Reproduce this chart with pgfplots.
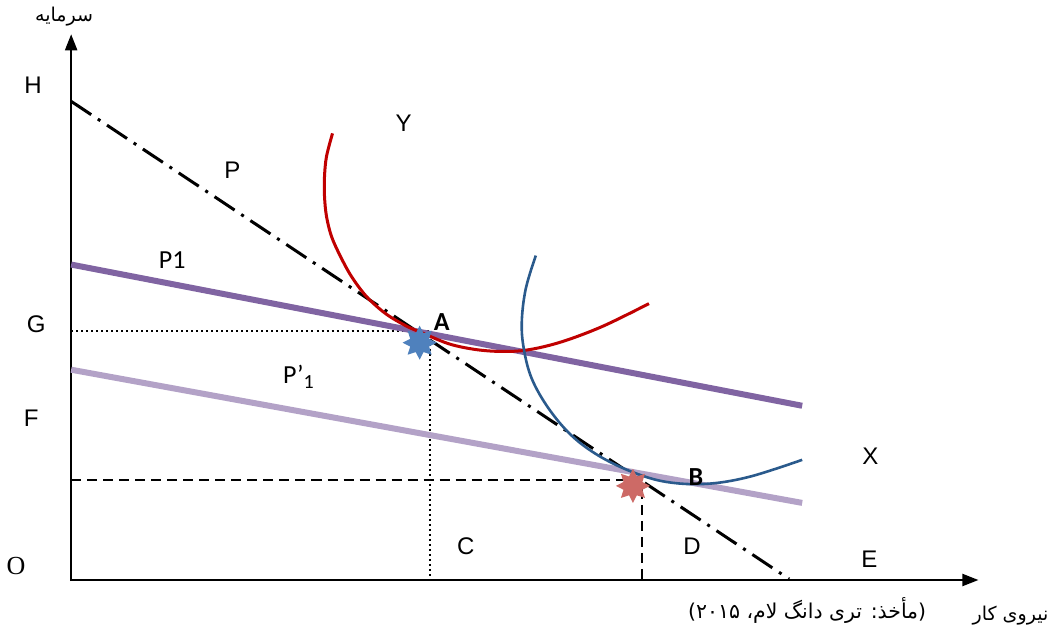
\documentclass[border=0pt]{standalone}
\usepackage{fontspec}
\setmainfont{Liberation Sans}
\newfontfamily\califont{Carlito}
\newfontfamily\serifont{Liberation Serif}
\newfontfamily\arabicfont[Script=Arabic]{DejaVu Sans}
\TeXXeTstate=1
\usepackage{pgfplots}
\pgfplotsset{compat=1.18}
\usetikzlibrary{arrows.meta}
\definecolor{pA}{HTML}{8064A2}
\definecolor{pB}{HTML}{B3A2C7}
\definecolor{redc}{HTML}{C00000}
\definecolor{bluec}{HTML}{2A5A8C}
\definecolor{starA}{HTML}{4F81BD}
\definecolor{starB}{HTML}{CD6A66}
\pgfdeclareplotmark{star8}{%
  \pgfpathmoveto{\pgfpointpolar{90}{\pgfplotmarksize}}%
  \pgfpathlineto{\pgfpointpolar{112.5}{0.6\pgfplotmarksize}}%
  \pgfpathlineto{\pgfpointpolar{135}{\pgfplotmarksize}}%
  \pgfpathlineto{\pgfpointpolar{157.5}{0.6\pgfplotmarksize}}%
  \pgfpathlineto{\pgfpointpolar{180}{\pgfplotmarksize}}%
  \pgfpathlineto{\pgfpointpolar{202.5}{0.6\pgfplotmarksize}}%
  \pgfpathlineto{\pgfpointpolar{225}{\pgfplotmarksize}}%
  \pgfpathlineto{\pgfpointpolar{247.5}{0.6\pgfplotmarksize}}%
  \pgfpathlineto{\pgfpointpolar{270}{\pgfplotmarksize}}%
  \pgfpathlineto{\pgfpointpolar{292.5}{0.6\pgfplotmarksize}}%
  \pgfpathlineto{\pgfpointpolar{315}{\pgfplotmarksize}}%
  \pgfpathlineto{\pgfpointpolar{337.5}{0.6\pgfplotmarksize}}%
  \pgfpathlineto{\pgfpointpolar{0}{\pgfplotmarksize}}%
  \pgfpathlineto{\pgfpointpolar{22.5}{0.6\pgfplotmarksize}}%
  \pgfpathlineto{\pgfpointpolar{45}{\pgfplotmarksize}}%
  \pgfpathlineto{\pgfpointpolar{67.5}{0.6\pgfplotmarksize}}%
  \pgfpathclose
  \pgfusepathqfill}
\begin{document}
\begin{tikzpicture}
\begin{axis}[width=527.5pt,height=315pt,scale only axis,hide axis,
  xmin=0,xmax=1055,ymin=0,ymax=630,clip=false]
% axes
\addplot[black,line width=1pt,-{Triangle[length=8pt,width=6pt]}] coordinates {(73,48) (73,594)};
\addplot[black,line width=1pt,-{Triangle[length=8pt,width=6pt]}] coordinates {(72,49) (979,49)};
% budget line P (dash-dot)
\addplot[black,line width=1.5pt,dash pattern=on 12pt off 4pt on 1.5pt off 4pt] coordinates {(73,527) (790,50)};
% guide lines
\addplot[black,line width=1pt,dash pattern=on 1pt off 1.5pt] coordinates {(73,298) (430,298)};
\addplot[black,line width=1pt,dash pattern=on 1pt off 1.5pt] coordinates {(431,285) (431,49)};
\addplot[black,line width=0.9pt,dash pattern=on 5pt off 3pt] coordinates {(73,149) (633,149)};
\addplot[black,line width=0.9pt,dash pattern=on 5pt off 3pt] coordinates {(643,140) (643,49)};
% price lines
\addplot[pA,line width=3pt] coordinates {(73,364) (803,223)};
\addplot[pB,line width=3pt] coordinates {(73,259) (803,126)};
% isoquant Y (red)
\addplot[redc,line width=1.5pt,smooth,tension=0.55] coordinates {
(334,495) (328,472) (326,452) (326,432) (328,412) (333,392) (342,372) (353,352)
(368,332) (387,315) (407,303) (423,296) (453,284) (487,278) (523,278) (560,286)
(603,302) (650,325)};
% isoquant X (blue)
\addplot[bluec,line width=1.3pt,smooth,tension=0.6] coordinates {
(537,373) (527,340) (523,307) (525,280) (533,250) (550,220) (573,193) (600,173)
(633,157) (667,147) (707,145) (750,152) (803,169)};
% equilibrium points
\addplot[only marks,mark=star8,mark size=8.5pt,color=starA] coordinates {(421,286)};
\addplot[only marks,mark=star8,mark size=8.5pt,color=starB] coordinates {(634,143)};
% labels
\node[font=\fontsize{12}{14}\selectfont] at (axis cs:35,543) {H};
\node[font=\fontsize{12}{14}\selectfont] at (axis cs:38,304) {G};
\node[font=\fontsize{12}{14}\selectfont] at (axis cs:33,211) {F};
\node[font=\fontsize{13}{15}\serifont] at (axis cs:18,63) {O};
\node[font=\fontsize{12}{14}\selectfont] at (axis cs:870,70) {E};
\node[font=\fontsize{12}{14}\selectfont] at (axis cs:871,173) {X};
\node[font=\fontsize{12}{14}\selectfont] at (axis cs:405,505) {Y};
\node[font=\fontsize{12}{14}\selectfont] at (axis cs:234,458) {P};
\node[font=\fontsize{12}{14}\selectfont] at (axis cs:467,83) {C};
\node[font=\fontsize{12}{14}\selectfont] at (axis cs:693,83) {D};
\node[font=\fontsize{13}{15}\califont] at (axis cs:174,368) {P1};
\node[font=\fontsize{13}{15}\califont] at (axis cs:300,252) {P’\raisebox{-0.4ex}{\fontsize{10}{11}\selectfont 1}};
\node[font=\fontsize{13}{15}\califont\bfseries] at (axis cs:443,307) {A};
\node[font=\fontsize{13}{15}\califont\bfseries] at (axis cs:697,152) {B};
\node[font=\fontsize{9.5}{11}\arabicfont] at (axis cs:66,612) {\beginR سرمایه\endR};
\node[font=\fontsize{9.5}{11}\arabicfont] at (axis cs:1011,13) {\beginR نیروی کار\endR};
\node[font=\fontsize{10.2}{12}\arabicfont] at (axis cs:808,19) {\beginR (مأخذ: تری دانگ لام، ۲۰۱۵)\endR};
\end{axis}
\end{tikzpicture}
\end{document}
